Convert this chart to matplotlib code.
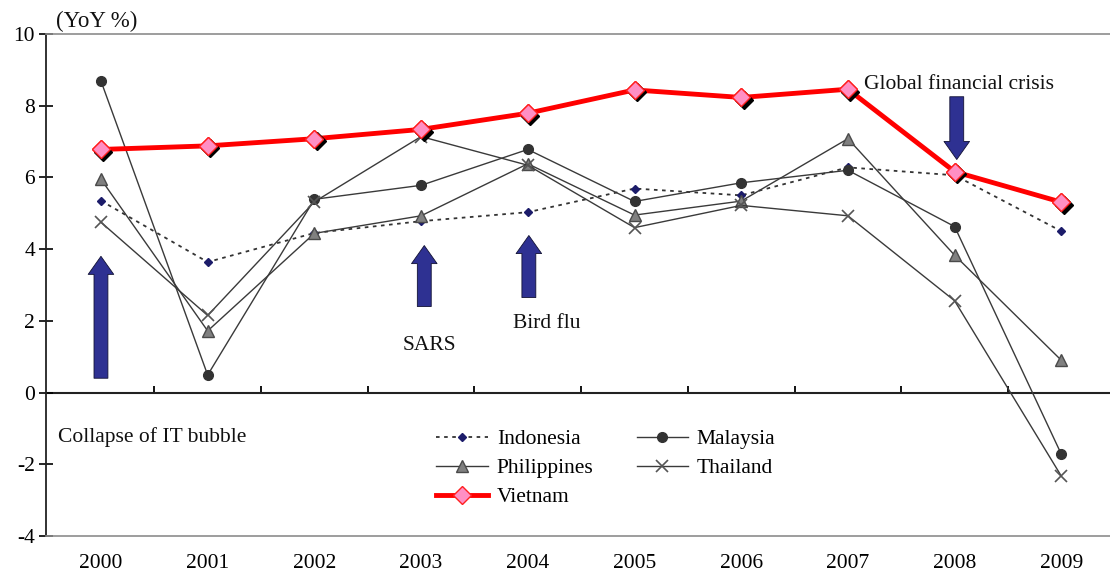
import matplotlib
matplotlib.use("Agg")
import matplotlib.pyplot as plt
from matplotlib import transforms

years = ["2000", "2001", "2002", "2003", "2004", "2005", "2006", "2007", "2008", "2009"]
indonesia = [5.35, 3.64, 4.45, 4.78, 5.03, 5.69, 5.50, 6.28, 6.06, 4.50]
malaysia = [8.69, 0.49, 5.39, 5.78, 6.78, 5.33, 5.85, 6.20, 4.63, -1.72]
philippines = [5.95, 1.72, 4.44, 4.93, 6.38, 4.95, 5.34, 7.08, 3.83, 0.90]
thailand = [4.75, 2.15, 5.32, 7.14, 6.34, 4.60, 5.22, 4.93, 2.56, -2.33]
vietnam = [6.78, 6.88, 7.08, 7.34, 7.79, 8.44, 8.23, 8.46, 6.16, 5.31]

# event annotations: (label, x index, arrow tail y, arrow tip y)
event_labels = ["Collapse of IT bubble", "SARS", "Bird flu", "Global financial crisis"]
arrow_x = [0.0, 3.03, 4.01, 8.02]
arrow_tail = [0.4, 2.4, 2.65, 8.25]
arrow_tip = [3.8, 4.1, 4.38, 6.5]
label_xy = [(-0.4, -1.25), (3.08, 1.3), (4.18, 1.93), (7.15, 8.6)]
label_ha = ["left", "center", "center", "left"]

SERIF = ["Liberation Serif", "DejaVu Serif"]
plt.rcParams["font.family"] = SERIF

fig = plt.figure(figsize=(11.10, 5.75), dpi=100)
ax = fig.add_axes([46 / 1110, 39 / 575, 1064 / 1110, 502 / 575])

x = list(range(len(years)))

h_ind, = ax.plot(x, indonesia, color="#333333", lw=1.3, ls=(0, (2, 2.5)), marker="D",
                 ms=4, mfc="#1c1c6a", mec="#1c1c6a", label="Indonesia", zorder=3)
h_mal, = ax.plot(x, malaysia, color="#3a3a3a", lw=1.0, marker="o", ms=7,
                 mfc="#333333", mec="#333333", label="Malaysia", zorder=3)
h_phi, = ax.plot(x, philippines, color="#3a3a3a", lw=1.0, marker="^", ms=8,
                 mfc="#808080", mec="#4a4a4a", label="Philippines", zorder=3)
h_tha, = ax.plot(x, thailand, color="#3a3a3a", lw=1.0, marker="x", ms=8, mew=1.2,
                 mec="#555555", label="Thailand", zorder=3)
h_vie, = ax.plot(x, vietnam, color="#ff0000", lw=3.5, marker="D", ms=9,
                 mfc="#ff8fc4", mec="#ff2020", mew=1.0, label="Vietnam", zorder=5)
shadow = transforms.offset_copy(ax.transData, fig=fig, x=2.5, y=-2.5, units="dots")
ax.plot(x, vietnam, ls="none", marker="D", ms=9, color="black",
        transform=shadow, zorder=6)
ax.plot(x, vietnam, ls="none", marker="D", ms=9, mfc="#ff8fc4",
        mec="#ff2020", mew=1.0, zorder=7)

for xa, yt, yh in zip(arrow_x, arrow_tail, arrow_tip):
    ax.annotate("", xy=(xa, yh), xytext=(xa, yt),
                arrowprops=dict(arrowstyle="simple,head_length=0.65,head_width=0.92,tail_width=0.5",
                                mutation_scale=20, fc="#2e3192", ec="#111133", lw=0.6,
                                shrinkA=0, shrinkB=0), zorder=8)

for lab, (lx, ly), ha in zip(event_labels, label_xy, label_ha):
    ax.text(lx, ly, lab, ha=ha, va="center", fontsize=15.5, color="#111111")

ax.set_xlim(-0.515, 9.456)
ax.set_ylim(-4, 10)
ax.set_yticks(range(-4, 11, 2))
ax.set_yticklabels([str(v) for v in range(-4, 11, 2)])
ax.set_xticks(x)
ax.set_xticklabels(years)
ax.tick_params(axis="x", length=0, pad=13, labelsize=15.5)
ax.tick_params(axis="y", direction="inout", length=10, width=1.2, pad=3, labelsize=15.5)

ax.spines["right"].set_visible(False)
ax.spines["left"].set_color("#222222")
ax.spines["left"].set_linewidth(1.3)
for s in ["top", "bottom"]:
    ax.spines[s].set_color("#8c8c8c")
    ax.spines[s].set_linewidth(1.2)

sec = ax.secondary_xaxis(4 / 14)
sec.set_xticks([i + 0.5 for i in range(len(years) - 1)])
sec.tick_params(axis="x", direction="in", length=5, width=1.3, labelbottom=False)
sec.spines["bottom"].set_color("#222222")
sec.spines["bottom"].set_linewidth(1.5)

fig.text(56 / 1110, 1 - 21 / 575, "(YoY %)", fontsize=16.5, va="center", ha="left",
         color="#111111")

handles = [h_ind, h_phi, h_vie, h_mal, h_tha]
ax.legend(handles=handles, labels=[h.get_label() for h in handles],
          ncol=2, loc="upper left", bbox_to_anchor=(0.367, 0.213), frameon=False,
          fontsize=15.5, handlelength=2.4, handletextpad=0.4, columnspacing=2.0,
          labelspacing=0.42, borderpad=0, borderaxespad=0)

fig.savefig("out.png", dpi=100)
